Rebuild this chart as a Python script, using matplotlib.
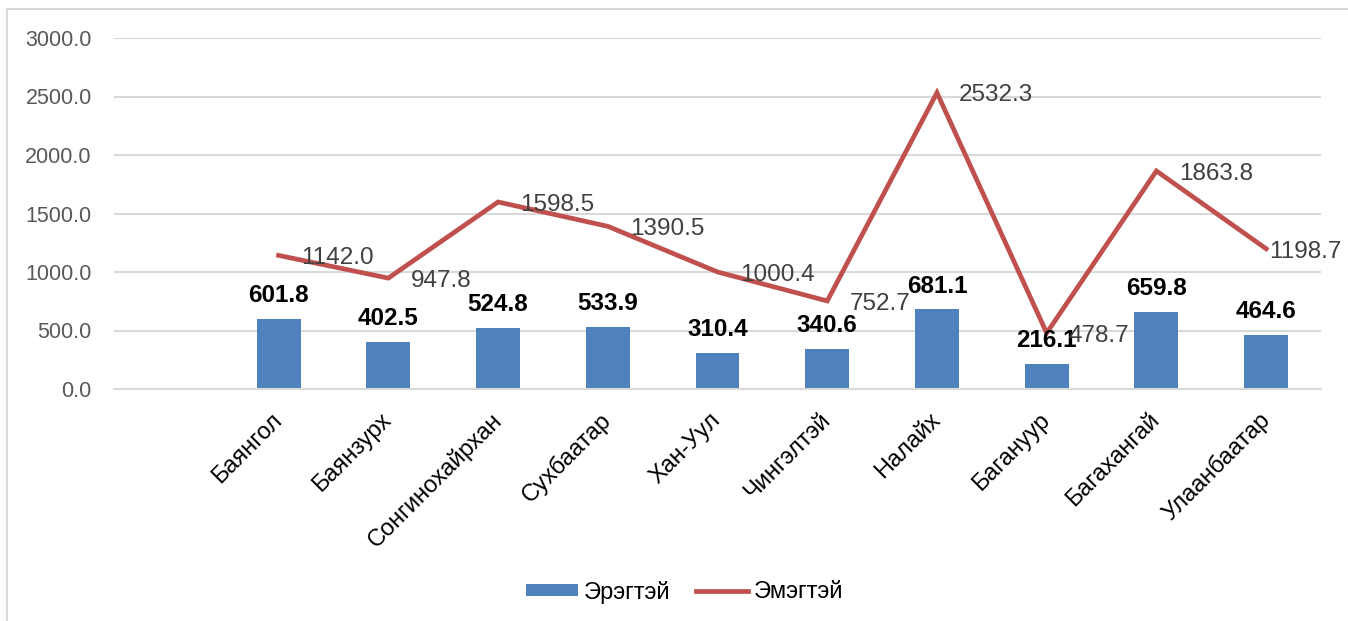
import numpy as np
import matplotlib.pyplot as plt
from matplotlib.patches import Rectangle

plt.rcParams['font.family'] = ['Liberation Sans', 'DejaVu Sans']

districts = ["Баянгол", "Баянзурх", "Сонгинохайрхан", "Сухбаатар", "Хан-Уул",
             "Чингэлтэй", "Налайх", "Багануур", "Багахангай", "Улаанбаатар"]
male = [601.8, 402.5, 524.8, 533.9, 310.4, 340.6, 681.1, 216.1, 659.8, 464.6]
female = [1142.0, 947.8, 1598.5, 1390.5, 1000.4, 752.7, 2532.3, 478.7, 1863.8, 1198.7]
yticks = [0, 500, 1000, 1500, 2000, 2500, 3000]

W, H = 1348, 621
fig = plt.figure(figsize=(W / 100, H / 100), dpi=100)
ax = fig.add_axes([114 / W, 1 - 389 / H, (1321 - 114) / W, (389 - 38) / H])

# first slot on the category axis stays empty
x = np.arange(1, len(districts) + 1)
bars = ax.bar(x, male, width=0.4, color="#4F81BD", zorder=2, label="Эрэгтэй")
line, = ax.plot(x, female, color="#C0504D", lw=3.4, zorder=3, label="Эмэгтэй",
                solid_joinstyle="miter")

for xi, v in zip(x, male):
    ax.annotate(f"{v:.1f}", (xi, v), xytext=(0, 12), textcoords="offset points",
                ha="center", va="baseline", fontsize=17.5, fontweight="bold",
                color="black", zorder=4)
for i, (xi, v) in enumerate(zip(x, female)):
    # last label is pulled in so it stays inside the plot area
    dx = 2 if i == len(female) - 1 else 16
    ax.annotate(f"{v:.1f}", (xi, v), xytext=(dx, -2), textcoords="offset points",
                ha="left", va="center", fontsize=17.5, color="#404040", zorder=4)

ax.set_xlim(-0.5, len(districts) + 0.5)
ax.set_ylim(0, 3000)
ax.set_yticks(yticks)
ax.set_yticklabels([f"{t:.1f}" for t in yticks], fontsize=15.5, color="#595959")
ax.set_xticks(x)
ax.set_xticklabels(districts, rotation=45, ha="right", va="center",
                   rotation_mode="anchor", fontsize=17, color="black")
ax.tick_params(axis="both", length=0)
ax.tick_params(axis="y", pad=16)
ax.tick_params(axis="x", pad=20)
ax.grid(axis="y", color="#D9D9D9", lw=1.5, zorder=0)
for s in ["top", "right", "left"]:
    ax.spines[s].set_visible(False)
ax.spines["bottom"].set_color("#D9D9D9")
ax.spines["bottom"].set_linewidth(1.5)

fig.legend([bars, line], ["Эрэгтэй", "Эмэгтэй"], loc="center",
           bbox_to_anchor=(0.508, 1 - 592 / H), ncol=2,
           frameon=False, fontsize=17, handlelength=2.2, handleheight=0.45,
           handletextpad=0.25, columnspacing=1.1)

# chart-area border (right and bottom edges fall outside the canvas)
fig.patches.append(Rectangle((7 / W, -0.1), 1.2, 1.1 - 9 / H,
                             transform=fig.transFigure, fill=False,
                             edgecolor="#D9D9D9", lw=1.5))

fig.savefig("out.png", dpi=100)
